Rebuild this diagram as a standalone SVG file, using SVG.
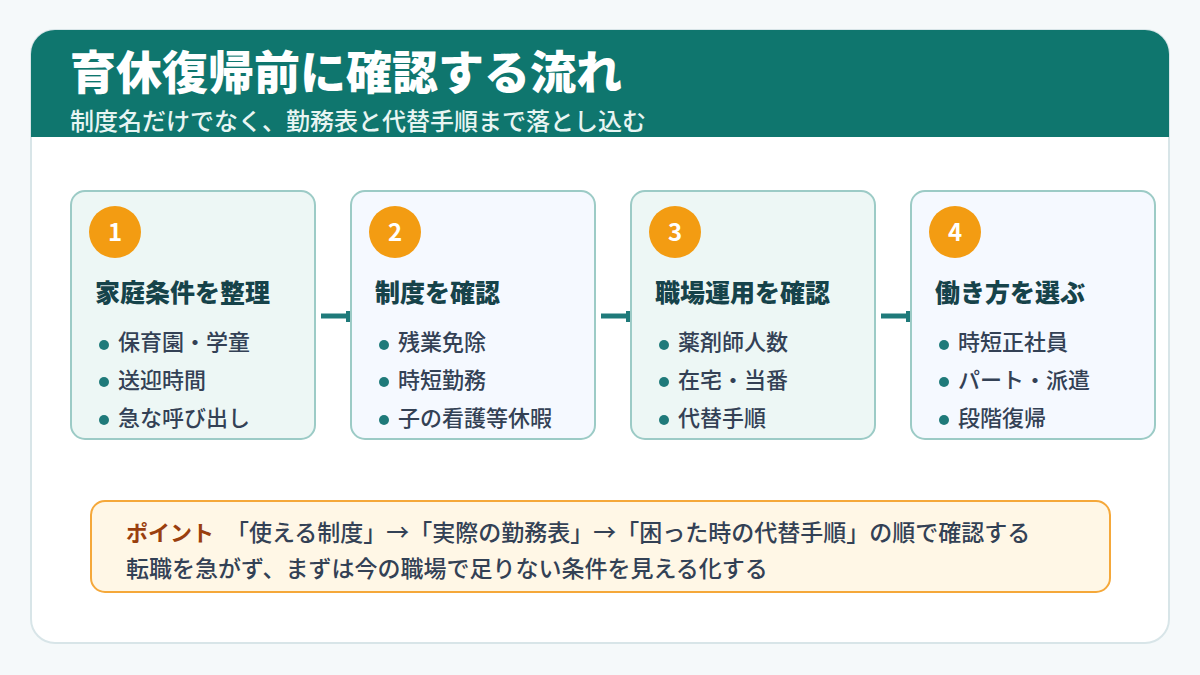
<svg xmlns="http://www.w3.org/2000/svg" width="1200" height="675" viewBox="0 0 1200 675">
<defs>
<style>
.t{font-family:"Noto Sans CJK JP","Noto Sans",sans-serif}
.card{stroke:#9ccbc6;stroke-width:2}
.c1{fill:#edf7f5}.c2{fill:#f5f9ff}
.num{fill:#f39c12}
.numt{font-family:"Noto Sans CJK JP","Noto Sans",sans-serif;font-size:24px;font-weight:700;fill:#fff;text-anchor:middle}
.ttl{font-family:"Noto Sans CJK JP",sans-serif;font-size:25px;font-weight:800;fill:#16434a}
.item{font-family:"Noto Sans CJK JP",sans-serif;font-size:22px;font-weight:500;fill:#334155}
.pt{font-family:"Noto Sans CJK JP",sans-serif;font-size:23px;font-weight:500;fill:#334155}
.dot{fill:#1f7a7a}
.conn{stroke:#1f7a7a;stroke-width:5;fill:none}
</style>
</defs>
<rect width="1200" height="675" fill="#f5f9fa"/>
<rect x="31" y="30" width="1138" height="613" rx="24" fill="#ffffff" stroke="#d8e5e8" stroke-width="2"/>
<path d="M31,137 V54 A24,24 0 0 1 55,30 H1145 A24,24 0 0 1 1169,54 V137 Z" fill="#0f766e"/>
<g id="header">
<text x="70" y="89" class="t" font-size="46" font-weight="900" fill="#ffffff">育休復帰前に確認する流れ</text>
<text x="70" y="130" class="t" font-size="24" font-weight="500" fill="#e8f5f3">制度名だけでなく、勤務表と代替手順まで落とし込む</text>
</g>
<g id="connectors">
<line x1="321" y1="316" x2="348" y2="316" class="conn"/><rect x="346" y="311" width="6" height="11" fill="#1f7a7a"/>
<line x1="601" y1="316" x2="628" y2="316" class="conn"/><rect x="626" y="311" width="6" height="11" fill="#1f7a7a"/>
<line x1="881" y1="316" x2="908" y2="316" class="conn"/><rect x="906" y="311" width="6" height="11" fill="#1f7a7a"/>
</g>
<g id="step1">
<rect x="71" y="191" width="244" height="248" rx="14" class="card c1"/>
<circle cx="115" cy="232" r="26" class="num"/><text x="115" y="241" class="numt">1</text>
<text x="95" y="302" class="ttl">家庭条件を整理</text>
<circle cx="104" cy="345" r="5" class="dot"/><text x="118" y="350" class="item">保育園・学童</text>
<circle cx="104" cy="382" r="5" class="dot"/><text x="118" y="388" class="item">送迎時間</text>
<circle cx="104" cy="420" r="5" class="dot"/><text x="118" y="426" class="item">急な呼び出し</text>
</g>
<g id="step2">
<rect x="351" y="191" width="244" height="248" rx="14" class="card c2"/>
<circle cx="395" cy="232" r="26" class="num"/><text x="395" y="241" class="numt">2</text>
<text x="375" y="302" class="ttl">制度を確認</text>
<circle cx="384" cy="345" r="5" class="dot"/><text x="398" y="350" class="item">残業免除</text>
<circle cx="384" cy="382" r="5" class="dot"/><text x="398" y="388" class="item">時短勤務</text>
<circle cx="384" cy="420" r="5" class="dot"/><text x="398" y="426" class="item">子の看護等休暇</text>
</g>
<g id="step3">
<rect x="631" y="191" width="244" height="248" rx="14" class="card c1"/>
<circle cx="675" cy="232" r="26" class="num"/><text x="675" y="241" class="numt">3</text>
<text x="655" y="302" class="ttl">職場運用を確認</text>
<circle cx="664" cy="345" r="5" class="dot"/><text x="678" y="350" class="item">薬剤師人数</text>
<circle cx="664" cy="382" r="5" class="dot"/><text x="678" y="388" class="item">在宅・当番</text>
<circle cx="664" cy="420" r="5" class="dot"/><text x="678" y="426" class="item">代替手順</text>
</g>
<g id="step4">
<rect x="911" y="191" width="244" height="248" rx="14" class="card c2"/>
<circle cx="955" cy="232" r="26" class="num"/><text x="955" y="241" class="numt">4</text>
<text x="935" y="302" class="ttl">働き方を選ぶ</text>
<circle cx="944" cy="345" r="5" class="dot"/><text x="958" y="350" class="item">時短正社員</text>
<circle cx="944" cy="382" r="5" class="dot"/><text x="958" y="388" class="item">パート・派遣</text>
<circle cx="944" cy="420" r="5" class="dot"/><text x="958" y="426" class="item">段階復帰</text>
</g>
<g id="point">
<rect x="91" y="501" width="1019" height="91" rx="14" fill="#fff7e6" stroke="#f5a83a" stroke-width="2"/>
<text x="126" y="541" class="t" font-size="22" font-weight="700" fill="#9a3f0e">ポイント</text>
<text x="226" y="541" class="pt">「使える制度」→「実際の勤務表」→「困った時の代替手順」の順で確認する</text>
<text x="126" y="577" class="pt">転職を急がず、まずは今の職場で足りない条件を見える化する</text>
</g>
</svg>
